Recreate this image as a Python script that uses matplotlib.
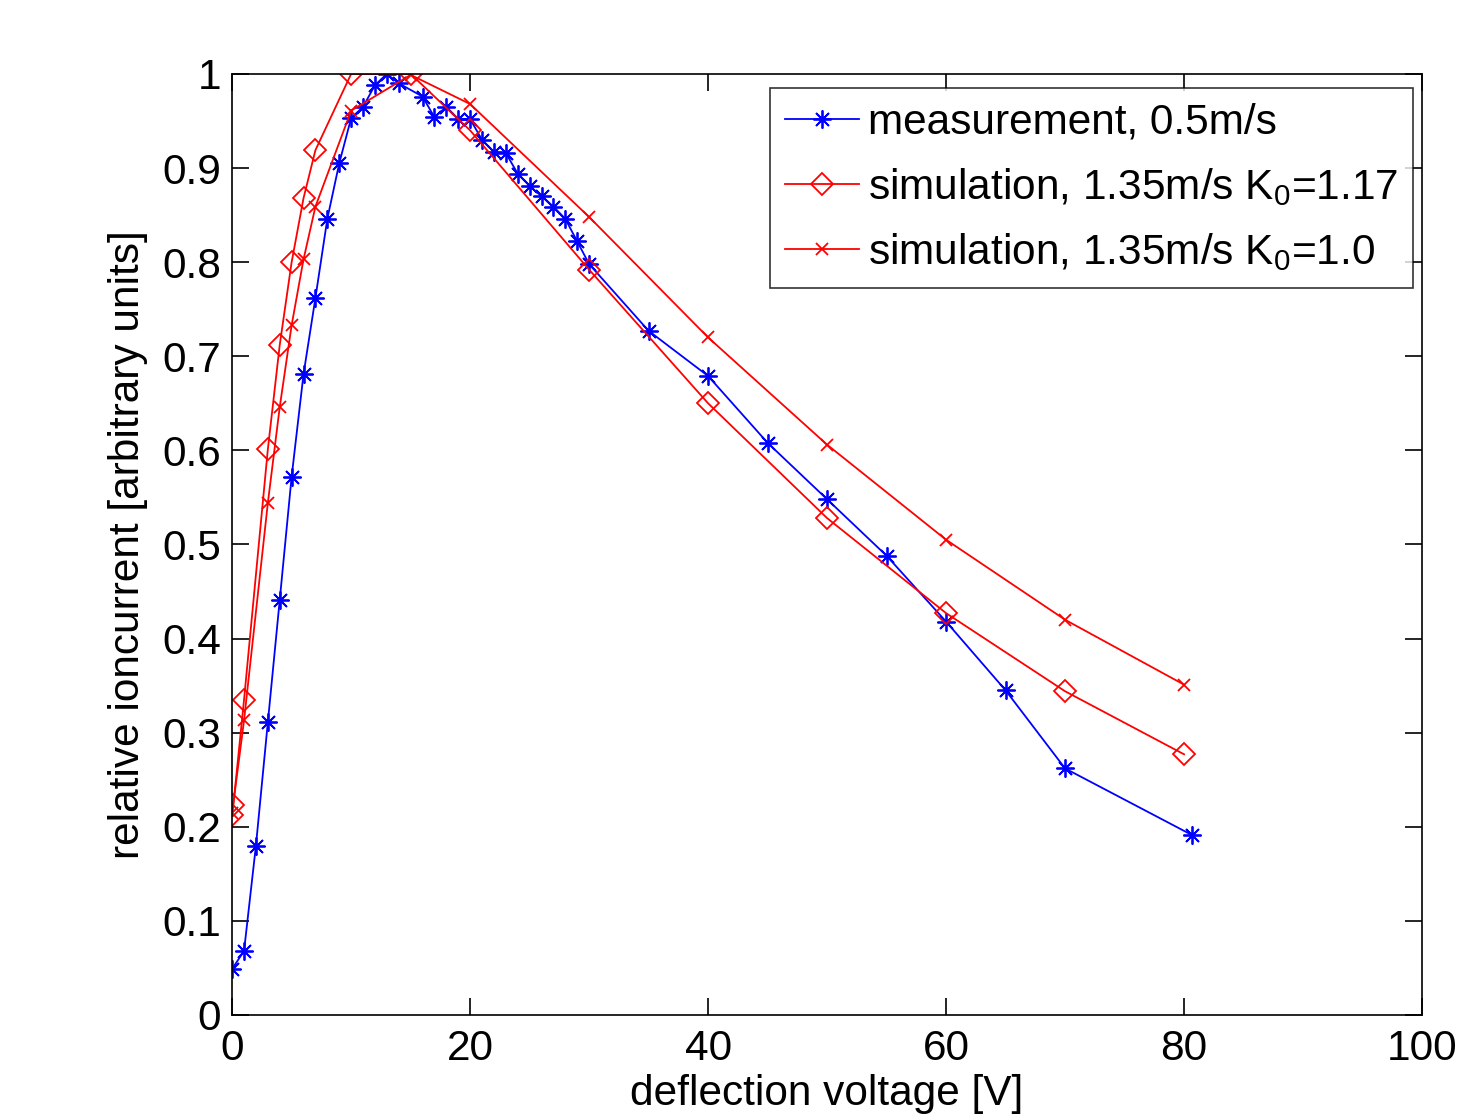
import matplotlib
matplotlib.use("Agg")
import matplotlib.pyplot as plt
from matplotlib.ticker import FuncFormatter, MultipleLocator

plt.rcParams['font.family'] = ['Liberation Sans', 'DejaVu Sans']
plt.rcParams['mathtext.default'] = 'regular'

# measurement, 0.5 m/s
meas_x = [0, 1, 2, 3, 4, 5, 6, 7, 8, 9, 10, 11, 12, 13, 14, 16, 17, 18, 19, 20,
          21, 22, 23, 24, 25, 26, 27, 28, 29, 30, 35, 40, 45, 50, 55, 60, 65, 70, 80.7]
meas_y = [0.049, 0.068, 0.180, 0.311, 0.441, 0.572, 0.681, 0.762, 0.846, 0.905,
          0.953, 0.965, 0.988, 1.000, 0.990, 0.976, 0.954, 0.965, 0.952, 0.952,
          0.930, 0.917, 0.916, 0.894, 0.881, 0.870, 0.859, 0.846, 0.822, 0.798,
          0.727, 0.679, 0.608, 0.548, 0.488, 0.418, 0.345, 0.262, 0.191]

# simulation, 1.35 m/s K0=1.17
simA_x = [0, 0.1, 1, 3, 4, 5, 6, 7, 10, 15, 20, 30, 40, 50, 60, 70, 80]
simA_y = [0.213, 0.223, 0.335, 0.601, 0.712, 0.800, 0.868, 0.919, 1.000, 1.000,
          0.940, 0.792, 0.650, 0.528, 0.427, 0.344, 0.277]

# simulation, 1.35 m/s K0=1.0
simB_x = [0, 1, 3, 4, 5, 6, 7, 10, 15, 20, 30, 40, 50, 60, 70, 80]
simB_y = [0.215, 0.313, 0.544, 0.646, 0.733, 0.803, 0.859, 0.961, 0.999, 0.968,
          0.848, 0.720, 0.606, 0.505, 0.420, 0.351]

labels = ["measurement, 0.5m/s",
          "simulation, 1.35m/s K$_0$=1.17",
          "simulation, 1.35m/s K$_0$=1.0"]

FS = 30.5

fig = plt.figure(figsize=(14.6, 11.15), dpi=100)
ax = fig.add_axes([0.159, 0.0897, 0.815, 0.844])

ax.plot(meas_x, meas_y, color='#0000ff', lw=1.3, marker=(8, 2, 0),
        markersize=13, markeredgewidth=1.3, label=labels[0])
ax.plot(simA_x, simA_y, color='#ff0000', lw=1.3, marker='D', markersize=11,
        markerfacecolor='none', markeredgewidth=1.3, label=labels[1])
ax.plot(simB_x, simB_y, color='#ff0000', lw=1.3, marker='x', markersize=8,
        markeredgewidth=1.3, label=labels[2])

ax.set_xlim(0, 100)
ax.set_ylim(0, 1)
ax.xaxis.set_major_locator(MultipleLocator(20))
ax.yaxis.set_major_locator(MultipleLocator(0.1))
ax.yaxis.set_major_formatter(FuncFormatter(lambda v, p: "%g" % round(v, 2)))
ax.tick_params(direction='in', length=12, width=1.2, top=True, right=True,
               labelsize=FS)
ax.tick_params(axis='x', pad=10)
ax.tick_params(axis='y', pad=8)
for s in ax.spines.values():
    s.set_linewidth(1.2)

ax.set_xlabel("deflection voltage [V]", fontsize=FS, labelpad=4)
ax.set_ylabel("relative ioncurrent [arbitrary units]", fontsize=FS, labelpad=10)

leg = ax.legend(loc='upper right', bbox_to_anchor=(0.992, 0.985), fontsize=FS,
                frameon=True, fancybox=False, edgecolor='black',
                handlelength=1.75, handletextpad=0.2, borderpad=0.35,
                labelspacing=0.55, borderaxespad=0)
leg.get_frame().set_linewidth(1.2)

fig.savefig("out.png", dpi=100, facecolor='white')
